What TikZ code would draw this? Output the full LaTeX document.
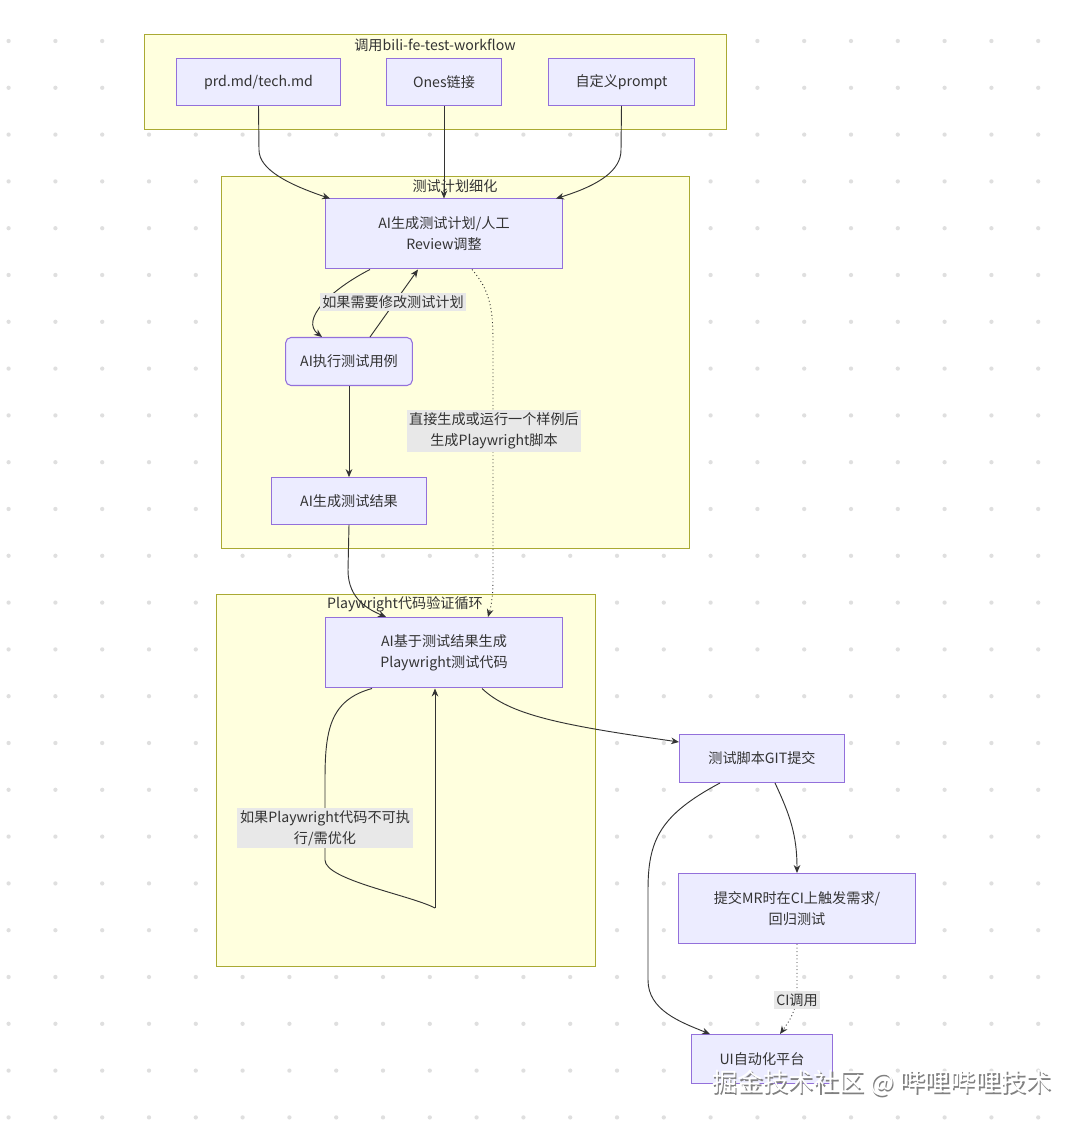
\documentclass[tikz,border=0pt]{standalone}
\usepackage{fontspec}
\setmainfont{Noto Sans CJK SC}
\usetikzlibrary{arrows.meta}
\definecolor{nfill}{HTML}{ECECFF}\definecolor{nline}{HTML}{9370DB}
\definecolor{cfill}{HTML}{FFFFDE}\definecolor{cline}{HTML}{AAAA33}
\definecolor{lbg}{HTML}{E8E8E8}\definecolor{ed}{HTML}{333333}
\begin{document}
\begin{tikzpicture}[x=0.75pt,y=-0.75pt,font=\fontsize{10.6}{15.5}\selectfont,
 box/.style={draw=nline,fill=nfill,line width=0.8pt,align=center,text=ed},
 clus/.style={draw=cline,fill=cfill,line width=0.7pt},
 ttl/.style={text=ed,inner sep=0pt},
 lab/.style={fill=lbg,text=ed,align=center,inner sep=2pt},
 e/.style={draw=ed,line width=0.7pt,-{Stealth[length=6pt,width=5pt]}},
 d/.style={e,dotted}]
\useasboundingbox (0,0) rectangle (1080,1128);
\fill[white] (0,0) rectangle (1080,1128);
\foreach \i in {0,...,23}\foreach \j in {0,...,24}
  \fill[gray!25] (8.6+46.8*\i,41+46.8*\j) circle (1.6pt);
\path[clus] (144,34) rectangle (726,129);
\node[ttl] (t1) at (435,45) {调用bili-fe-test-workflow};
\path[clus] (221,176) rectangle (689,548);
\node[ttl] (t2) at (455,186) {测试计划细化};
\path[clus] (216,594) rectangle (595,966);
\node[ttl] (t3) at (405,604) {Playwright代码验证循环};
\node[box,minimum width=123pt,minimum height=35pt] (prd) at (258.5,82) {prd.md/tech.md};
\node[box,minimum width=86pt,minimum height=35pt] (ones) at (444,82) {Ones链接};
\node[box,minimum width=109pt,minimum height=35pt] (pr) at (621.5,82) {自定义prompt};
\node[box,minimum width=178pt,minimum height=52.5pt] (plan) at (444,233.5) {AI生成测试计划/人工\\Review调整};
\node[box,rounded corners=4pt,minimum width=95pt,minimum height=36pt] (ex) at (349,361.5) {AI执行测试用例};
\node[box,minimum width=116pt,minimum height=35pt] (res) at (349,501) {AI生成测试结果};
\node[box,minimum width=178pt,minimum height=52.5pt] (code) at (444,652.5) {AI基于测试结果生成\\Playwright测试代码};
\node[box,minimum width=124pt,minimum height=36pt] (git) at (762,758.5) {测试脚本GIT提交};
\node[box,minimum width=178pt,minimum height=52.5pt] (mr) at (797,908.5) {提交MR时在CI上触发需求/\\回归测试};
\node[box,minimum width=106pt,minimum height=37pt] (ui) at (762,1059) {UI自动化平台};
\coordinate (lp) at (435,908);
\draw[e] (prd.south) -- (259,150) .. controls (259,170) and (290,185) .. (330,198.5);
\draw[e] (ones.south) -- (444,198.5);
\draw[e] (pr.south) -- (621,150) .. controls (621,170) and (600,185) .. (556,198.5);
\draw[e] (370,269.5) .. controls (330,290) and (300,320) .. (322,337);
\draw[e] (370,337) -- (418,269.5);
\node[lab] (l1) at (393,302) {如果需要修改测试计划};
\draw[e] (ex.south) -- (res.north);
\draw[e] (res.south) -- (348,570) .. controls (348,600) and (370,610) .. (386,617);
\draw[d] (472,269.5) .. controls (490,290) and (493,310) .. (493,340) -- (493,580) .. controls (493,600) and (490,610) .. (488,617);
\node[lab] (l2) at (494,431) {直接生成或运行一个样例后\\生成Playwright脚本};
\draw[draw=ed,line width=0.7pt] (372,688.5) .. controls (330,700) and (325,730) .. (325,780) -- (325,860) .. controls (325,880) and (410,895) .. (lp);
\draw[e] (lp) -- (435,688.5);
\node[lab] (l3) at (325,828) {如果Playwright代码不可执\\行/需优化};
\draw[e] (482,688.5) .. controls (510,715) and (560,725) .. (679,742);
\draw[e] (720,783) .. controls (660,815) and (648,840) .. (648,890) -- (648,980) .. controls (648,1010) and (680,1022) .. (710,1034);
\draw[e] (775,783) .. controls (790,815) and (797,835) .. (797,873);
\draw[d] (mr.south) -- (797,990) .. controls (797,1010) and (790,1020) .. (780,1034);
\node[lab] (l4) at (797,1000) {CI调用};
\node[text=gray,font=\fontsize{19}{22}\selectfont] (wm0) at (883.5,1084.5) {掘金技术社区 @ 哔哩哔哩技术};
\node[text=white,font=\fontsize{19}{22}\selectfont] (wm) at (882,1083) {掘金技术社区 @ 哔哩哔哩技术};
\end{tikzpicture}
\end{document}
